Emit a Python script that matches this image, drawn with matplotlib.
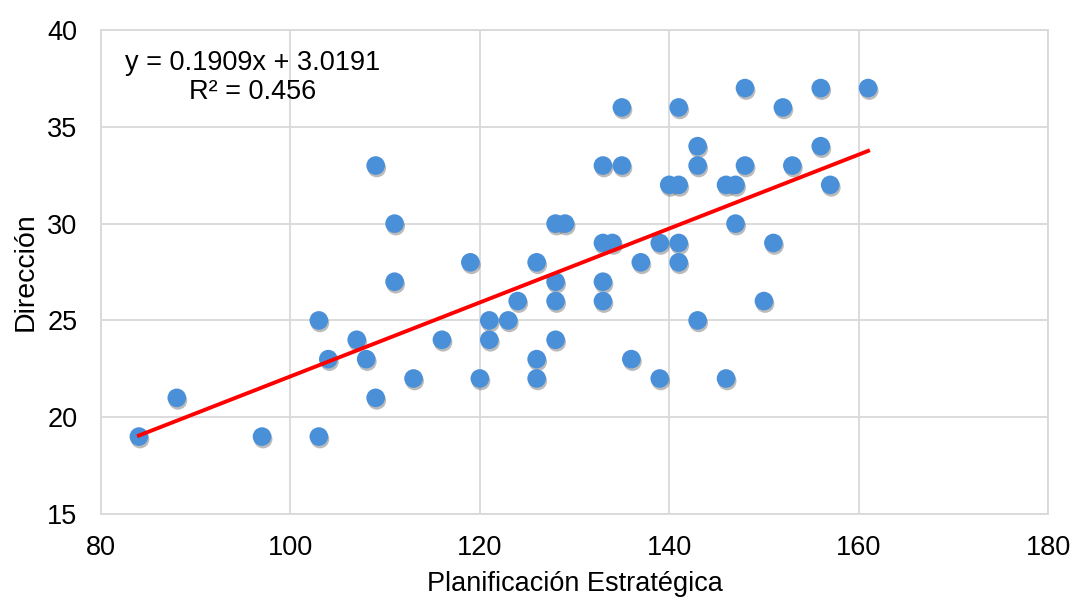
import matplotlib
matplotlib.use("Agg")
import matplotlib.pyplot as plt
import matplotlib.patheffects as pe
import numpy as np

plt.rcParams['font.family'] = ['Liberation Sans', 'DejaVu Sans']

# planificacion estrategica (x) vs direccion (y)
planificacion = [84, 88, 97, 103, 103, 104, 107, 108, 109, 109,
                 111, 111, 113, 116, 119, 120, 121, 121, 123, 124,
                 126, 126, 126, 128, 129, 128, 128, 128, 133, 133,
                 134, 133, 133, 135, 135, 136, 137, 139, 139, 140,
                 141, 141, 141, 141, 143, 143, 143, 146, 147, 147,
                 146, 148, 148, 150, 151, 152, 153, 156, 156, 157,
                 161]
direccion = [19, 21, 19, 19, 25, 23, 24, 23, 21, 33,
             30, 27, 22, 24, 28, 22, 25, 24, 25, 26,
             28, 23, 22, 30, 30, 27, 26, 24, 33, 29,
             29, 27, 26, 36, 33, 23, 28, 22, 29, 32,
             32, 36, 29, 28, 34, 33, 25, 32, 32, 30,
             22, 37, 33, 26, 29, 36, 33, 37, 34, 32,
             37]

# trendline as printed on the chart
slope = 0.1909
intercept = 3.0191
r2 = 0.456

x = np.array(planificacion)
y = np.array(direccion)

fig = plt.figure(figsize=(10.76, 6), dpi=100)
ax = fig.add_axes([0.0939, 0.1433, 0.8801, 0.8067])

grid_col = '#d9d9d9'
ax.set_xlim(80, 180)
ax.set_ylim(15, 40)
ax.set_xticks(np.arange(80, 181, 20))
ax.set_yticks(np.arange(15, 41, 5))
ax.grid(True, color=grid_col, linewidth=1.3)
ax.set_axisbelow(True)
for s in ax.spines.values():
    s.set_color(grid_col)
    s.set_linewidth(1.3)
ax.tick_params(length=0, labelsize=19.5, pad=17)
ax.tick_params(axis='x', pad=15)

pts = ax.scatter(x, y, s=180, color='#4a90d9', edgecolors='none', zorder=3)
pts.set_path_effects([pe.SimplePatchShadow(offset=(0.8, -1.8), shadow_rgbFace='#555555', alpha=0.4),
                      pe.Normal()])

xl = np.array([x.min(), x.max()])
ax.plot(xl, slope * xl + intercept, color='#ff0000', linewidth=2.8, zorder=4)

ax.text(0.1605, 0.902, 'y = %.4fx + %.4f\nR² = %.3f' % (slope, intercept, r2),
        transform=ax.transAxes, ha='center', va='center', fontsize=19.5,
        linespacing=1.15)

ax.set_xlabel('Planificación Estratégica', fontsize=19.5, labelpad=7)
ax.set_ylabel('Dirección', fontsize=20.5, labelpad=6)

fig.savefig('out.png', dpi=100)
